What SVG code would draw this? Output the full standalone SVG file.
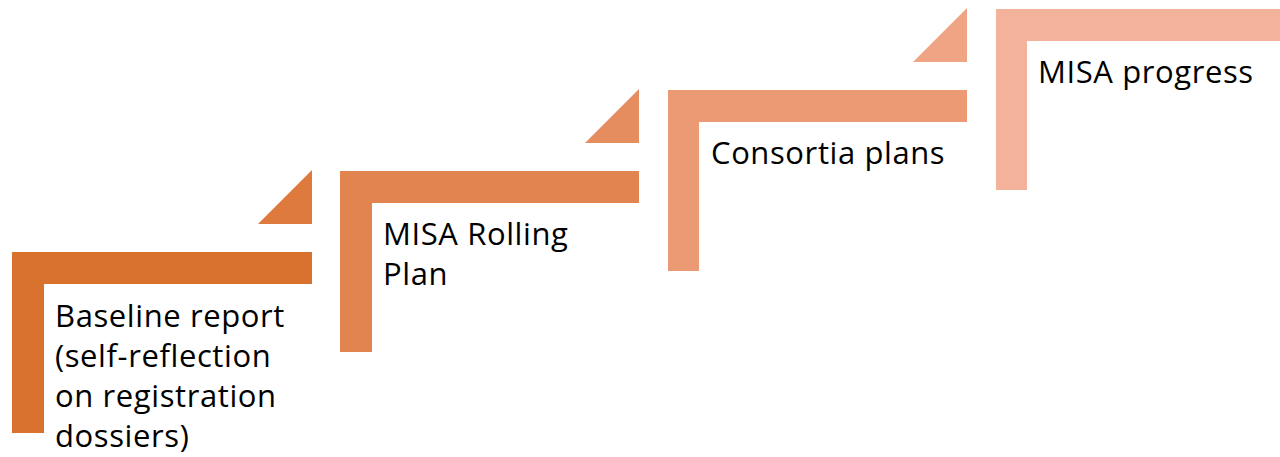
<svg xmlns="http://www.w3.org/2000/svg" width="1280" height="457" viewBox="0 0 1280 457">
<style>
text{font-family:"Open Sans","Liberation Sans",Arial,sans-serif;font-size:31px;letter-spacing:0.6px;fill:#000}
</style>
<rect width="1280" height="457" fill="#fff"/>
<g id="step1">
<path d="M12 252H312V284H44V433H12Z" fill="#D9712F"/>
<path d="M312 170V224H258Z" fill="#DE7A3E"/>
<text x="55" y="327">Baseline report</text>
<text x="55" y="367">(self-reflection</text>
<text x="55" y="407">on registration</text>
<text x="55" y="447">dossiers)</text>
</g>
<g id="step2">
<path d="M340 171H639V203H372V352H340Z" fill="#E28450"/>
<path d="M639 89V143H585Z" fill="#E58D5F"/>
<text x="383" y="245">MISA Rolling</text>
<text x="383" y="285">Plan</text>
</g>
<g id="step3">
<path d="M668 90H967V122H699V271H668Z" fill="#EB9A73"/>
<path d="M967 8V62H913Z" fill="#EFA584"/>
<text x="711" y="164">Consortia plans</text>
</g>
<g id="step4">
<path d="M996 9H1290V41H1027V190H996Z" fill="#F3B39B"/>
<text x="1038" y="83">MISA progress</text>
</g>
<g id="connectors"/>
</svg>
